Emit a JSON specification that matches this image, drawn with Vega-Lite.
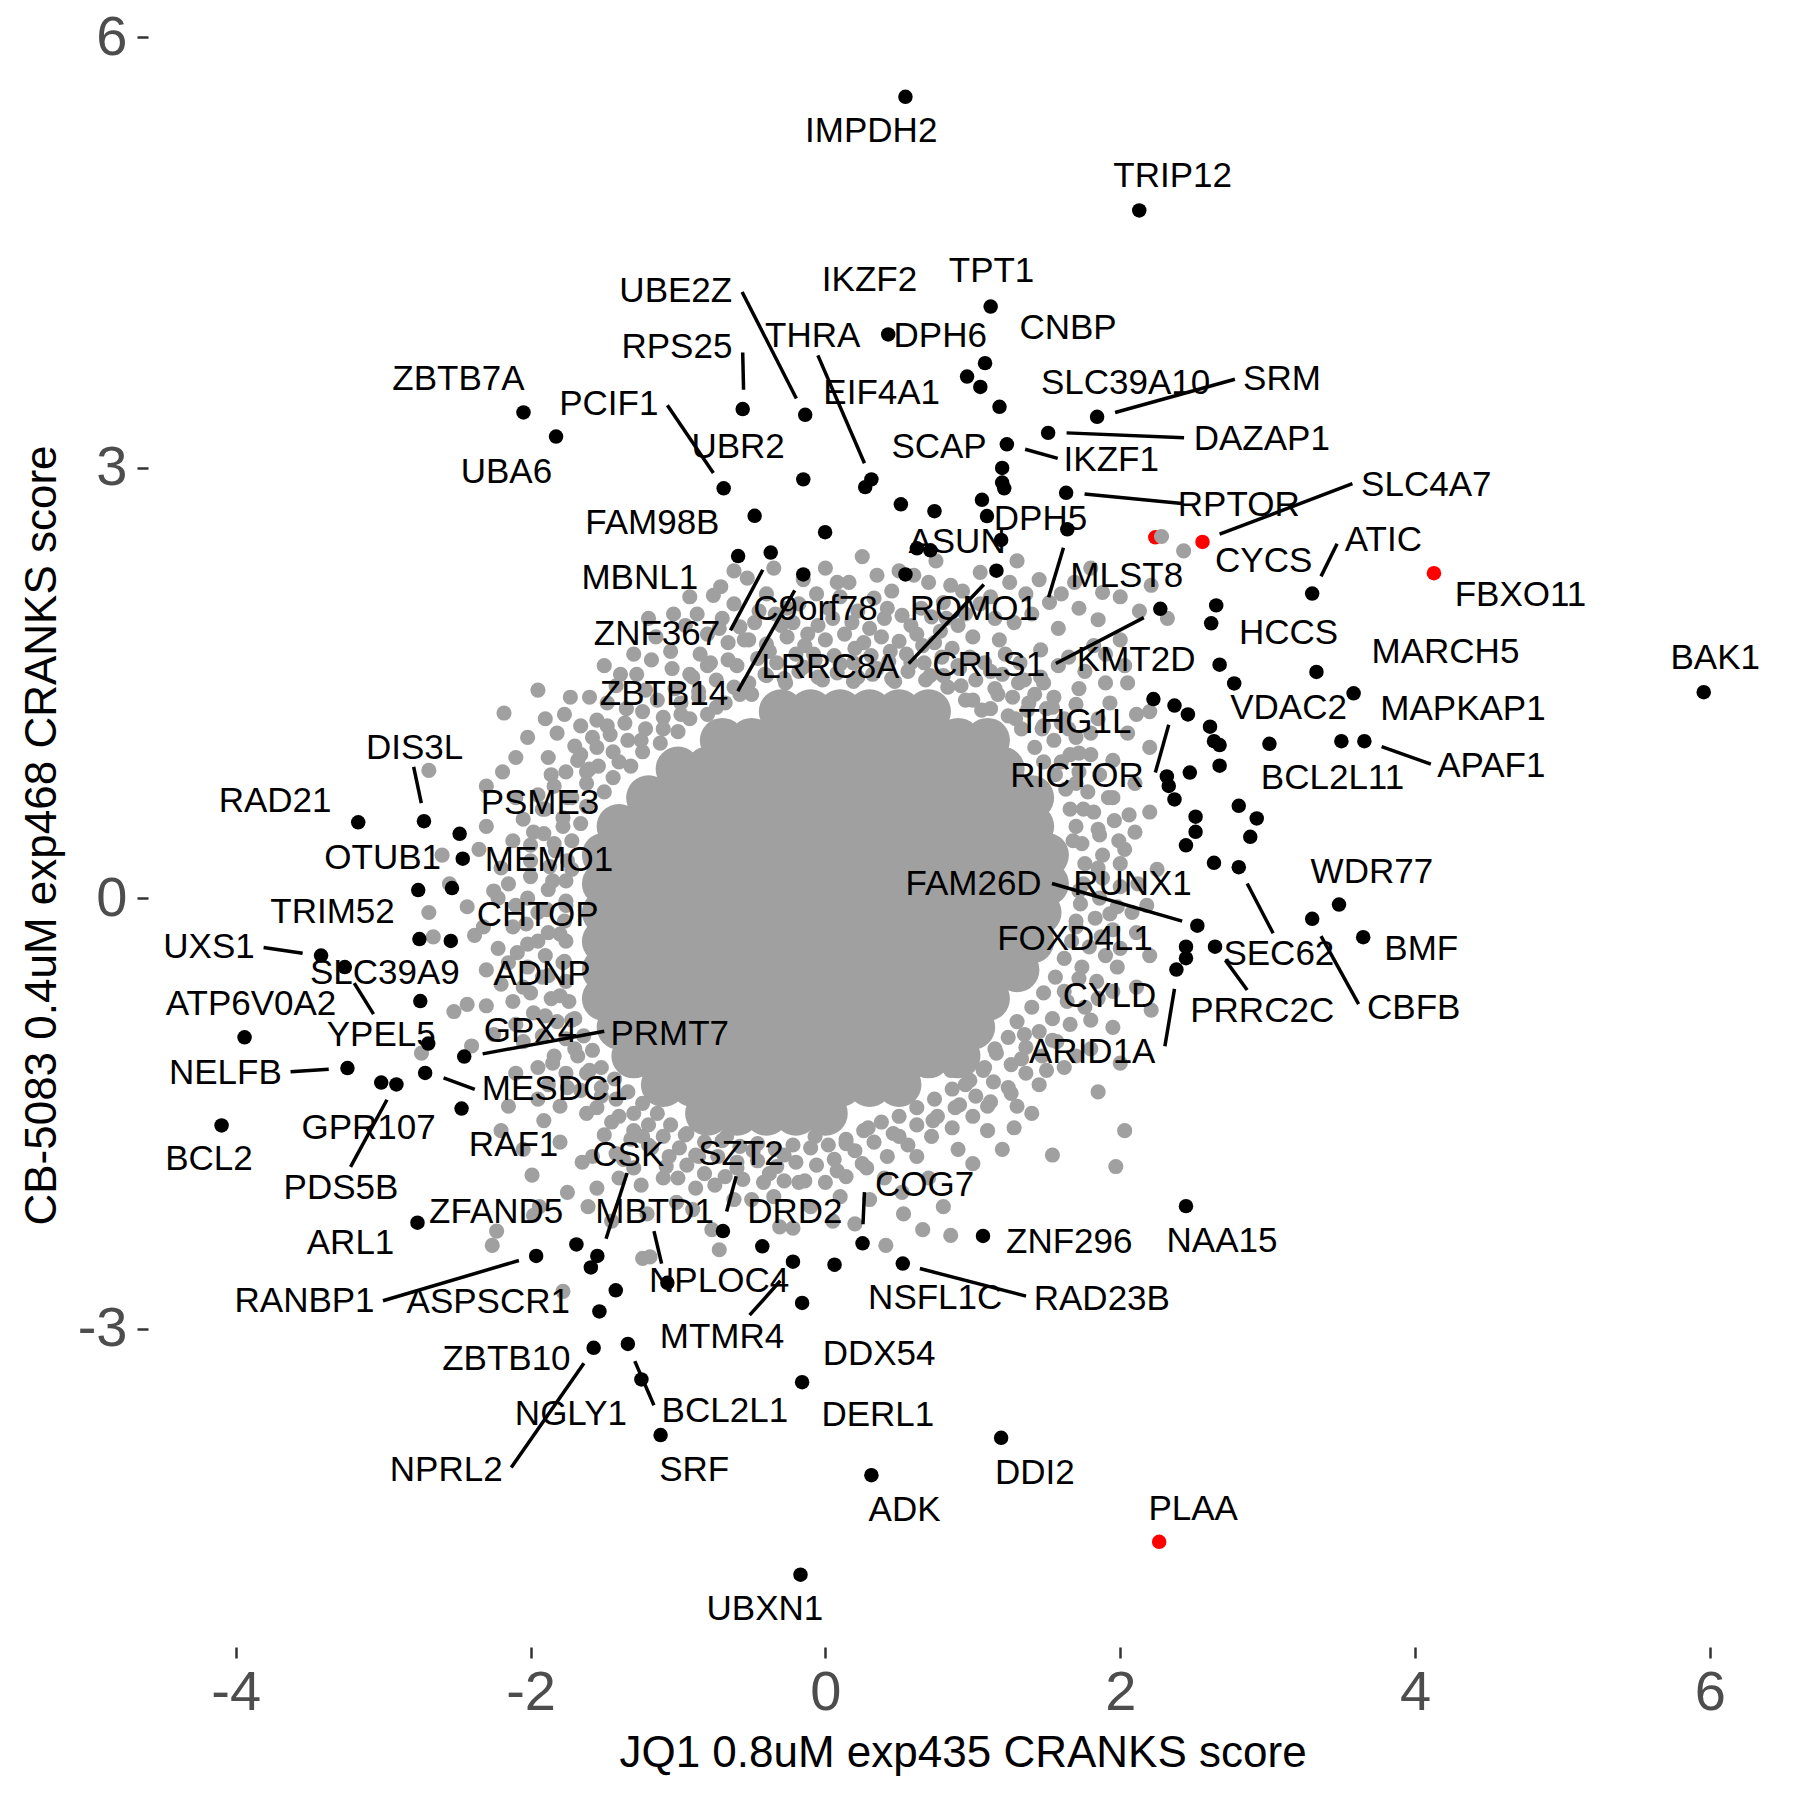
{
"$schema": "https://vega.github.io/schema/vega-lite/v6.json",
"width": 1629, "height": 1624,
"autosize": {"type": "none"},
"padding": {"left": 148, "top": 23, "right": 23, "bottom": 153},
"background": "white",
"config": {"view": {"stroke": null}, "font": "Liberation Sans"},
"datasets": {
"core": [
{"x":-0.3,"y":1.3},{"x":-0.1,"y":1.3},{"x":0.1,"y":1.3},{"x":0.3,"y":1.3},{"x":0.5,"y":1.3},{"x":0.7,"y":1.3},
{"x":-0.7,"y":1.1},{"x":-0.5,"y":1.1},{"x":-0.3,"y":1.1},{"x":-0.1,"y":1.1},{"x":0.1,"y":1.1},{"x":0.3,"y":1.1},{"x":0.5,"y":1.1},{"x":0.7,"y":1.1},{"x":0.9,"y":1.1},{"x":1.1,"y":1.1},
{"x":-1.0,"y":0.9},{"x":-0.8,"y":0.9},{"x":-0.6,"y":0.9},{"x":-0.4,"y":0.9},{"x":-0.2,"y":0.9},{"x":0.0,"y":0.9},{"x":0.2,"y":0.9},{"x":0.4,"y":0.9},{"x":0.6,"y":0.9},{"x":0.8,"y":0.9},{"x":1.0,"y":0.9},{"x":1.2,"y":0.9},
{"x":-1.2,"y":0.7},{"x":-1.0,"y":0.7},{"x":-0.8,"y":0.7},{"x":-0.6,"y":0.7},{"x":-0.4,"y":0.7},{"x":-0.2,"y":0.7},{"x":0.0,"y":0.7},{"x":0.2,"y":0.7},{"x":0.4,"y":0.7},{"x":0.6,"y":0.7},{"x":0.8,"y":0.7},{"x":1.0,"y":0.7},{"x":1.2,"y":0.7},{"x":1.4,"y":0.7},
{"x":-1.4,"y":0.5},{"x":-1.2,"y":0.5},{"x":-1.0,"y":0.5},{"x":-0.8,"y":0.5},{"x":-0.6,"y":0.5},{"x":-0.4,"y":0.5},{"x":-0.2,"y":0.5},{"x":0.0,"y":0.5},{"x":0.2,"y":0.5},{"x":0.4,"y":0.5},{"x":0.6,"y":0.5},{"x":0.8,"y":0.5},{"x":1.0,"y":0.5},{"x":1.2,"y":0.5},{"x":1.4,"y":0.5},
{"x":-1.5,"y":0.3},{"x":-1.3,"y":0.3},{"x":-1.1,"y":0.3},{"x":-0.9,"y":0.3},{"x":-0.7,"y":0.3},{"x":-0.5,"y":0.3},{"x":-0.3,"y":0.3},{"x":-0.1,"y":0.3},{"x":0.1,"y":0.3},{"x":0.3,"y":0.3},{"x":0.5,"y":0.3},{"x":0.7,"y":0.3},{"x":0.9,"y":0.3},{"x":1.1,"y":0.3},{"x":1.3,"y":0.3},{"x":1.5,"y":0.3},
{"x":-1.5,"y":0.1},{"x":-1.3,"y":0.1},{"x":-1.1,"y":0.1},{"x":-0.9,"y":0.1},{"x":-0.7,"y":0.1},{"x":-0.5,"y":0.1},{"x":-0.3,"y":0.1},{"x":-0.1,"y":0.1},{"x":0.1,"y":0.1},{"x":0.3,"y":0.1},{"x":0.5,"y":0.1},{"x":0.7,"y":0.1},{"x":0.9,"y":0.1},{"x":1.1,"y":0.1},{"x":1.3,"y":0.1},{"x":1.5,"y":0.1},
{"x":-1.5,"y":-0.1},{"x":-1.3,"y":-0.1},{"x":-1.1,"y":-0.1},{"x":-0.9,"y":-0.1},{"x":-0.7,"y":-0.1},{"x":-0.5,"y":-0.1},{"x":-0.3,"y":-0.1},{"x":-0.1,"y":-0.1},{"x":0.1,"y":-0.1},{"x":0.3,"y":-0.1},{"x":0.5,"y":-0.1},{"x":0.7,"y":-0.1},{"x":0.9,"y":-0.1},{"x":1.1,"y":-0.1},{"x":1.3,"y":-0.1},{"x":1.45,"y":-0.1},
{"x":-1.5,"y":-0.3},{"x":-1.3,"y":-0.3},{"x":-1.1,"y":-0.3},{"x":-0.9,"y":-0.3},{"x":-0.7,"y":-0.3},{"x":-0.5,"y":-0.3},{"x":-0.3,"y":-0.3},{"x":-0.1,"y":-0.3},{"x":0.1,"y":-0.3},{"x":0.3,"y":-0.3},{"x":0.5,"y":-0.3},{"x":0.7,"y":-0.3},{"x":0.9,"y":-0.3},{"x":1.1,"y":-0.3},{"x":1.3,"y":-0.3},{"x":1.4,"y":-0.3},
{"x":-1.5,"y":-0.5},{"x":-1.3,"y":-0.5},{"x":-1.1,"y":-0.5},{"x":-0.9,"y":-0.5},{"x":-0.7,"y":-0.5},{"x":-0.5,"y":-0.5},{"x":-0.3,"y":-0.5},{"x":-0.1,"y":-0.5},{"x":0.1,"y":-0.5},{"x":0.3,"y":-0.5},{"x":0.5,"y":-0.5},{"x":0.7,"y":-0.5},{"x":0.9,"y":-0.5},{"x":1.1,"y":-0.5},{"x":1.3,"y":-0.5},
{"x":-1.5,"y":-0.7},{"x":-1.3,"y":-0.7},{"x":-1.1,"y":-0.7},{"x":-0.9,"y":-0.7},{"x":-0.7,"y":-0.7},{"x":-0.5,"y":-0.7},{"x":-0.3,"y":-0.7},{"x":-0.1,"y":-0.7},{"x":0.1,"y":-0.7},{"x":0.3,"y":-0.7},{"x":0.5,"y":-0.7},{"x":0.7,"y":-0.7},{"x":0.9,"y":-0.7},{"x":1.1,"y":-0.7},
{"x":-1.4,"y":-0.9},{"x":-1.2,"y":-0.9},{"x":-1.0,"y":-0.9},{"x":-0.8,"y":-0.9},{"x":-0.6,"y":-0.9},{"x":-0.4,"y":-0.9},{"x":-0.2,"y":-0.9},{"x":0.0,"y":-0.9},{"x":0.2,"y":-0.9},{"x":0.4,"y":-0.9},{"x":0.6,"y":-0.9},{"x":0.8,"y":-0.9},{"x":1.0,"y":-0.9},
{"x":-1.3,"y":-1.1},{"x":-1.1,"y":-1.1},{"x":-0.9,"y":-1.1},{"x":-0.7,"y":-1.1},{"x":-0.5,"y":-1.1},{"x":-0.3,"y":-1.1},{"x":-0.1,"y":-1.1},{"x":0.1,"y":-1.1},{"x":0.3,"y":-1.1},{"x":0.5,"y":-1.1},{"x":0.7,"y":-1.1},{"x":0.9,"y":-1.1},
{"x":-1.1,"y":-1.3},{"x":-0.9,"y":-1.3},{"x":-0.7,"y":-1.3},{"x":-0.5,"y":-1.3},{"x":-0.3,"y":-1.3},{"x":-0.1,"y":-1.3},{"x":0.1,"y":-1.3},{"x":0.3,"y":-1.3},{"x":0.5,"y":-1.3},
{"x":-0.8,"y":-1.5},{"x":-0.6,"y":-1.5},{"x":-0.4,"y":-1.5},{"x":-0.2,"y":-1.5},{"x":0.0,"y":-1.5}
],
"cloud": [
{"x":-0.52,"y":1.50},{"x":-0.40,"y":1.55},{"x":-0.28,"y":1.53},{"x":-0.18,"y":1.58},{"x":-0.05,"y":1.54},{"x":0.08,"y":1.57},{"x":0.19,"y":1.51},{"x":0.32,"y":1.56},{"x":0.45,"y":1.53},{"x":0.56,"y":1.58},{"x":0.68,"y":1.52},{"x":0.80,"y":1.55},{"x":0.92,"y":1.48},{"x":1.00,"y":1.38},{"x":1.12,"y":1.32},{"x":1.24,"y":1.27},{"x":1.33,"y":1.18},{"x":1.42,"y":1.05},{"x":1.48,"y":0.95},{"x":1.56,"y":0.86},{"x":1.63,"y":0.76},{"x":1.66,"y":0.62},{"x":1.70,"y":0.50},{"x":1.74,"y":0.38},{"x":1.76,"y":0.24},{"x":1.75,"y":0.10},{"x":1.73,"y":-0.04},{"x":1.70,"y":-0.16},{"x":1.67,"y":-0.30},{"x":1.62,"y":-0.42},{"x":1.56,"y":-0.55},{"x":1.48,"y":-0.66},{"x":1.40,"y":-0.76},{"x":1.30,"y":-0.86},{"x":1.24,"y":-0.97},{"x":1.16,"y":-1.08},{"x":1.08,"y":-1.18},{"x":0.98,"y":-1.27},{"x":0.86,"y":-1.33},{"x":0.74,"y":-1.40},{"x":0.62,"y":-1.46},{"x":0.50,"y":-1.52},{"x":0.38,"y":-1.56},{"x":0.26,"y":-1.62},{"x":0.14,"y":-1.68},{"x":0.02,"y":-1.72},{"x":-0.10,"y":-1.74},{"x":-0.22,"y":-1.72},{"x":-0.34,"y":-1.75},{"x":-0.46,"y":-1.71},{"x":-0.58,"y":-1.73},{"x":-0.70,"y":-1.69},{"x":-0.82,"y":-1.70},{"x":-0.94,"y":-1.64},{"x":-1.05,"y":-1.58},{"x":-1.14,"y":-1.50},{"x":-1.24,"y":-1.43},{"x":-1.34,"y":-1.35},{"x":-1.43,"y":-1.26},{"x":-1.52,"y":-1.18},{"x":-1.58,"y":-1.06},{"x":-1.64,"y":-0.96},{"x":-1.70,"y":-0.84},{"x":-1.74,"y":-0.72},{"x":-1.76,"y":-0.58},{"x":-1.77,"y":-0.44},{"x":-1.76,"y":-0.30},{"x":-1.77,"y":-0.16},{"x":-1.76,"y":-0.02},{"x":-1.76,"y":0.12},{"x":-1.75,"y":0.26},{"x":-1.72,"y":0.40},{"x":-1.66,"y":0.52},{"x":-1.62,"y":0.64},{"x":-1.50,"y":0.74},{"x":-1.44,"y":0.84},{"x":-1.32,"y":0.92},{"x":-1.24,"y":1.02},{"x":-1.12,"y":1.08},{"x":-1.00,"y":1.16},{"x":-0.92,"y":1.25},{"x":-0.80,"y":1.28},{"x":-0.68,"y":1.36},{"x":-0.58,"y":1.42},
{"x":-0.60,"y":1.62},{"x":-0.46,"y":1.67},{"x":-0.33,"y":1.64},{"x":-0.20,"y":1.70},{"x":-0.07,"y":1.66},{"x":0.06,"y":1.69},{"x":0.19,"y":1.64},{"x":0.31,"y":1.69},{"x":0.43,"y":1.65},{"x":0.55,"y":1.70},{"x":0.67,"y":1.64},{"x":0.79,"y":1.68},{"x":0.91,"y":1.60},{"x":1.02,"y":1.52},{"x":1.15,"y":1.46},{"x":1.27,"y":1.40},{"x":1.37,"y":1.31},{"x":1.48,"y":1.20},{"x":1.55,"y":1.10},{"x":1.66,"y":1.00},{"x":1.72,"y":0.88},{"x":1.78,"y":0.74},{"x":1.82,"y":0.60},{"x":1.86,"y":0.44},{"x":1.88,"y":0.30},{"x":1.88,"y":0.14},{"x":1.86,"y":0.00},{"x":1.83,"y":-0.14},{"x":1.79,"y":-0.34},{"x":1.72,"y":-0.56},{"x":1.64,"y":-0.72},{"x":1.54,"y":-0.84},{"x":1.45,"y":-0.93},{"x":1.36,"y":-1.04},{"x":1.26,"y":-1.16},{"x":1.14,"y":-1.28},{"x":1.02,"y":-1.38},{"x":0.88,"y":-1.46},{"x":0.76,"y":-1.52},{"x":0.62,"y":-1.58},{"x":0.46,"y":-1.64},{"x":0.33,"y":-1.70},{"x":0.20,"y":-1.76},{"x":0.06,"y":-1.82},{"x":-0.06,"y":-1.86},{"x":-0.20,"y":-1.84},{"x":-0.33,"y":-1.87},{"x":-0.46,"y":-1.83},{"x":-0.60,"y":-1.84},{"x":-0.73,"y":-1.80},{"x":-0.86,"y":-1.80},{"x":-0.99,"y":-1.74},{"x":-1.10,"y":-1.66},{"x":-1.20,"y":-1.58},{"x":-1.30,"y":-1.50},{"x":-1.42,"y":-1.40},{"x":-1.52,"y":-1.32},{"x":-1.62,"y":-1.22},{"x":-1.68,"y":-1.10},{"x":-1.76,"y":-0.98},{"x":-1.82,"y":-0.86},{"x":-1.86,"y":-0.70},{"x":-1.88,"y":-0.54},{"x":-1.90,"y":-0.40},{"x":-1.88,"y":-0.24},{"x":-1.89,"y":-0.08},{"x":-1.88,"y":0.06},{"x":-1.87,"y":0.22},{"x":-1.84,"y":0.38},{"x":-1.78,"y":0.56},{"x":-1.72,"y":0.70},{"x":-1.62,"y":0.80},{"x":-1.54,"y":0.92},{"x":-1.44,"y":1.02},{"x":-1.34,"y":1.10},{"x":-1.22,"y":1.18},{"x":-1.10,"y":1.26},{"x":-0.98,"y":1.36},{"x":-0.86,"y":1.44},{"x":-0.74,"y":1.52},
{"x":-0.66,"y":1.78},{"x":-0.52,"y":1.80},{"x":-0.40,"y":1.77},{"x":-0.26,"y":1.82},{"x":-0.14,"y":1.76},{"x":0.00,"y":1.80},{"x":0.13,"y":1.84},{"x":0.26,"y":1.78},{"x":0.38,"y":1.82},{"x":0.50,"y":1.79},{"x":0.62,"y":1.84},{"x":0.74,"y":1.78},{"x":0.86,"y":1.74},{"x":0.98,"y":1.68},{"x":1.08,"y":1.64},{"x":1.20,"y":1.56},{"x":1.31,"y":1.50},{"x":1.42,"y":1.42},{"x":1.50,"y":1.32},{"x":1.60,"y":1.22},{"x":1.70,"y":1.12},
{"x":1.80,"y":1.00},{"x":1.86,"y":0.86},{"x":1.92,"y":0.70},{"x":1.96,"y":0.54},{"x":1.99,"y":0.40},{"x":2.00,"y":0.24},{"x":2.00,"y":0.08},{"x":1.98,"y":-0.06},{"x":1.95,"y":-0.22},{"x":1.90,"y":-0.40},{"x":1.84,"y":-0.58},{"x":1.76,"y":-0.76},{"x":1.66,"y":-0.88},{"x":1.57,"y":-1.00},{"x":1.47,"y":-1.10},{"x":1.36,"y":-1.22},{"x":1.24,"y":-1.32},{"x":1.12,"y":-1.42},{"x":1.00,"y":-1.52},
{"x":0.86,"y":-1.60},{"x":0.72,"y":-1.66},{"x":0.56,"y":-1.72},{"x":0.42,"y":-1.80},{"x":0.28,"y":-1.88},{"x":0.14,"y":-1.94},{"x":0.00,"y":-1.98},{"x":-0.14,"y":-1.97},{"x":-0.28,"y":-1.97},{"x":-0.42,"y":-1.98},{"x":-0.56,"y":-1.96},{"x":-0.68,"y":-1.94},{"x":-0.82,"y":-1.92},{"x":-0.94,"y":-1.86},{"x":-1.06,"y":-1.80},{"x":-1.18,"y":-1.74},{"x":-1.32,"y":-1.68},{"x":-1.45,"y":-1.56},{"x":-1.55,"y":-1.46},{"x":-1.66,"y":-1.34},{"x":-1.76,"y":-1.22},
{"x":-1.84,"y":-1.10},{"x":-1.92,"y":-0.96},{"x":-1.98,"y":-0.80},{"x":-2.00,"y":-0.66},{"x":-2.02,"y":-0.48},{"x":-2.02,"y":-0.32},{"x":-2.03,"y":-0.18},{"x":-2.02,"y":0.00},{"x":-2.00,"y":0.26},{"x":-1.98,"y":0.46},{"x":-1.92,"y":0.62},{"x":-1.84,"y":0.78},{"x":-1.76,"y":0.88},{"x":-1.66,"y":1.00},{"x":-1.58,"y":1.12},{"x":-1.46,"y":1.14},{"x":-1.36,"y":1.22},{"x":-1.24,"y":1.30},{"x":-1.14,"y":1.38},{"x":-1.02,"y":1.46},{"x":-0.90,"y":1.54},{"x":-0.80,"y":1.62},
{"x":-0.95,"y":1.90},{"x":-0.70,"y":1.95},{"x":-0.45,"y":2.00},{"x":-0.40,"y":2.12},{"x":-0.18,"y":2.05},{"x":-0.15,"y":2.22},{"x":0.02,"y":2.02},{"x":0.08,"y":2.20},{"x":0.22,"y":2.00},{"x":0.45,"y":2.14},{"x":0.50,"y":2.28},{"x":0.65,"y":2.02},{"x":0.85,"y":2.18},{"x":0.90,"y":1.90},{"x":1.12,"y":2.10},{"x":1.15,"y":1.95},{"x":1.40,"y":1.98},{"x":1.45,"y":2.22},{"x":1.60,"y":2.12},{"x":1.65,"y":1.68},{"x":2.00,"y":1.80},{"x":2.05,"y":1.50},{"x":2.20,"y":1.30},{"x":-0.62,"y":2.05},{"x":0.35,"y":2.25},{"x":1.80,"y":2.30},{"x":2.00,"y":2.10},{"x":2.32,"y":1.95},
{"x":-0.85,"y":1.70},{"x":-0.72,"y":1.88},{"x":-0.48,"y":1.92},{"x":-0.34,"y":1.98},{"x":-0.22,"y":1.92},{"x":-0.05,"y":1.90},{"x":0.10,"y":2.10},{"x":0.18,"y":1.92},{"x":0.40,"y":1.95},{"x":0.58,"y":1.90},{"x":0.72,"y":1.96},{"x":0.82,"y":1.95},{"x":1.00,"y":1.82},{"x":1.05,"y":2.05},{"x":1.22,"y":1.70},{"x":1.32,"y":1.64},{"x":1.48,"y":1.50},{"x":1.58,"y":1.62},{"x":1.70,"y":1.35},{"x":1.85,"y":1.25},{"x":1.90,"y":1.50},{"x":-0.62,"y":2.28},{"x":0.00,"y":2.30},{"x":0.75,"y":2.35},{"x":1.30,"y":2.35},
{"x":-1.48,"y":1.36},{"x":-1.66,"y":1.20},{"x":-1.70,"y":1.06},{"x":-1.42,"y":1.48},{"x":-1.28,"y":1.56},{"x":-1.18,"y":1.66},{"x":-1.86,"y":0.86},{"x":-1.95,"y":0.72},{"x":-2.10,"y":0.70},{"x":-2.10,"y":0.98},{"x":-1.90,"y":1.25},{"x":-1.20,"y":1.95},
{"x":-2.12,"y":0.40},{"x":-2.15,"y":0.10},{"x":-2.12,"y":-0.20},{"x":-2.15,"y":-0.45},{"x":-2.12,"y":-0.72},{"x":-2.30,"y":0.50},{"x":-2.32,"y":-0.20},{"x":-2.30,"y":-0.75},{"x":-2.05,"y":-1.00},{"x":-1.95,"y":-1.18},
{"x":-1.10,"y":-1.95},{"x":-0.88,"y":-2.02},{"x":-0.62,"y":-2.10},{"x":-0.35,"y":-2.08},{"x":-0.22,"y":-2.30},{"x":0.05,"y":-2.25},{"x":0.30,"y":-2.10},{"x":0.52,"y":-2.05},{"x":0.70,"y":-1.95},{"x":0.80,"y":-2.15},{"x":1.00,"y":-1.85},{"x":-1.40,"y":-1.95},{"x":-1.58,"y":-1.80},{"x":-1.80,"y":-1.45},{"x":-1.88,"y":-1.30},
{"x":2.10,"y":0.46},{"x":2.12,"y":0.10},{"x":2.08,"y":-0.10},{"x":2.05,"y":1.15},{"x":2.20,"y":0.60},{"x":2.20,"y":-0.40},{"x":1.95,"y":-0.65},{"x":1.95,"y":-0.90},{"x":1.70,"y":-1.10},{"x":1.50,"y":-1.20},{"x":1.30,"y":-1.45},{"x":1.10,"y":-1.62},
{"x":-0.98,"y":1.28},{"x":-0.86,"y":1.40},{"x":-0.74,"y":1.33},{"x":-0.62,"y":1.47},{"x":-0.50,"y":1.42},{"x":-0.41,"y":1.56},{"x":-0.27,"y":1.50},{"x":-0.15,"y":1.61},{"x":-0.02,"y":1.52},{"x":0.10,"y":1.63},{"x":0.22,"y":1.54},{"x":0.35,"y":1.60},{"x":0.47,"y":1.51},{"x":0.58,"y":1.64},{"x":0.71,"y":1.55},{"x":0.83,"y":1.47},{"x":0.95,"y":1.38},{"x":1.06,"y":1.31},{"x":1.17,"y":1.42},{"x":1.29,"y":1.25},{"x":1.38,"y":1.36},{"x":1.47,"y":1.18},{"x":-1.10,"y":1.18},{"x":-0.92,"y":1.56},{"x":-0.66,"y":1.66},{"x":-0.38,"y":1.72},{"x":-0.08,"y":1.70},{"x":0.20,"y":1.74},{"x":0.44,"y":1.72},{"x":0.66,"y":1.76},{"x":0.90,"y":1.62},{"x":1.12,"y":1.58},{"x":1.35,"y":1.52},{"x":1.55,"y":1.40},{"x":1.62,"y":1.25},
{"x":-1.05,"y":1.72},{"x":-0.80,"y":1.84},{"x":-0.55,"y":1.80},{"x":-0.30,"y":1.90},{"x":-0.12,"y":1.84},{"x":0.05,"y":1.95},{"x":0.30,"y":1.88},{"x":0.52,"y":1.97},{"x":0.78,"y":1.86},{"x":0.95,"y":1.98},{"x":1.18,"y":1.80},{"x":1.28,"y":1.92},{"x":1.46,"y":1.73},{"x":1.58,"y":1.88},{"x":1.72,"y":2.02},{"x":1.85,"y":1.94},{"x":2.13,"y":2.00},{"x":1.90,"y":1.70},{"x":1.76,"y":1.58},{"x":-0.58,"y":1.89},{"x":-0.78,"y":1.64},{"x":-1.03,"y":1.98},{"x":-0.87,"y":1.98},
{"x":-0.71,"y":2.17},{"x":-0.53,"y":2.23},{"x":-0.76,"y":2.11},{"x":-0.26,"y":2.02},{"x":-0.06,"y":2.12},{"x":0.16,"y":2.20},{"x":0.33,"y":2.09},{"x":0.60,"y":2.25},{"x":0.70,"y":2.20},{"x":0.93,"y":2.14},{"x":1.05,"y":2.27},{"x":1.25,"y":2.20},{"x":1.36,"y":2.12},{"x":1.69,"y":2.20},{"x":1.88,"y":2.13},{"x":2.21,"y":2.18},{"x":2.43,"y":2.42},{"x":2.28,"y":2.52},{"x":0.42,"y":2.02},{"x":0.80,"y":2.06},{"x":1.52,"y":2.06},{"x":-0.92,"y":2.10},{"x":0.25,"y":2.38},{"x":-0.35,"y":2.30},
{"x":-1.39,"y":1.56},{"x":-1.04,"y":1.60},{"x":-1.22,"y":1.45},{"x":-1.35,"y":1.32},{"x":-1.48,"y":1.20},{"x":-1.25,"y":1.10},{"x":-1.55,"y":1.05},{"x":-1.40,"y":0.95},{"x":-1.62,"y":0.88},{"x":-1.73,"y":1.40},{"x":-1.77,"y":1.28},{"x":-1.82,"y":1.15},{"x":-1.68,"y":0.96},{"x":-1.88,"y":0.98},{"x":-2.18,"y":1.29},{"x":-2.19,"y":0.88},{"x":-2.30,"y":0.78},{"x":-1.55,"y":1.24},{"x":-2.02,"y":1.12},{"x":-1.95,"y":1.45},{"x":-1.15,"y":1.82},{"x":-1.30,"y":1.70},{"x":-1.50,"y":1.62},{"x":-1.60,"y":1.40},{"x":-1.60,"y":0.90},
{"x":-1.91,"y":0.45},{"x":-1.78,"y":0.50},{"x":-2.00,"y":0.37},{"x":-1.83,"y":0.33},{"x":-2.20,"y":0.21},{"x":-2.35,"y":0.34},{"x":-2.25,"y":0.05},{"x":-2.43,"y":-0.06},{"x":-2.22,"y":0.00},{"x":-2.38,"y":-0.26},{"x":-2.22,"y":-0.35},{"x":-2.09,"y":-0.38},{"x":-2.52,"y":-0.79},{"x":-2.43,"y":-0.74},{"x":-2.40,"y":-1.03},{"x":-1.75,"y":0.70},{"x":-1.90,"y":0.62},{"x":-2.05,"y":0.55},{"x":-1.72,"y":0.20},{"x":-1.85,"y":0.12},{"x":-2.00,"y":0.15},{"x":-1.76,"y":-0.05},{"x":-1.95,"y":-0.10},{"x":-2.10,"y":-0.05},{"x":-1.80,"y":-0.25},{"x":-1.95,"y":-0.30},{"x":-1.78,"y":-0.45},{"x":-1.92,"y":-0.55},{"x":-2.05,"y":-0.62},{"x":-1.80,"y":-0.68},{"x":-2.20,"y":-0.60},{"x":-1.72,"y":-0.85},{"x":-1.90,"y":-0.82},{"x":-2.10,"y":-0.88},{"x":-2.69,"y":-0.10},{"x":-2.66,"y":-0.27},{"x":-2.69,"y":0.89},{"x":-2.60,"y":0.30},{"x":-2.55,"y":0.10},{"x":-2.30,"y":-0.50},{"x":-2.25,"y":-0.95},{"x":-2.74,"y":-1.08},
{"x":-1.70,"y":-1.05},{"x":-1.85,"y":-1.15},{"x":-1.60,"y":-1.20},{"x":-1.75,"y":-1.32},{"x":-1.52,"y":-1.38},{"x":-1.95,"y":-1.40},{"x":-1.62,"y":-1.50},{"x":-1.91,"y":-1.55},{"x":-1.40,"y":-1.52},{"x":-1.50,"y":-1.65},{"x":-1.30,"y":-1.62},{"x":-1.99,"y":-1.93},{"x":-1.65,"y":-1.84},{"x":-1.80,"y":-1.70},{"x":-1.42,"y":-1.78},{"x":-1.20,"y":-1.72},{"x":-1.30,"y":-1.88},{"x":-1.08,"y":-1.87},{"x":-1.37,"y":-1.82},{"x":-1.24,"y":-1.66},{"x":-2.23,"y":-2.32},{"x":-2.26,"y":-2.42},{"x":-1.94,"y":-2.15},{"x":-1.98,"y":-2.21},{"x":-1.78,"y":-2.74},{"x":-1.61,"y":-2.15},{"x":-1.55,"y":-2.02},{"x":-1.25,"y":-2.00},{"x":-1.00,"y":-1.95},{"x":-2.10,"y":-1.22},{"x":-2.20,"y":-1.62},{"x":-2.05,"y":-1.75},{"x":-1.45,"y":-2.25},{"x":-1.21,"y":-2.20},{"x":-1.19,"y":-2.50},{"x":-2.15,"y":-1.45},{"x":-1.75,"y":-2.05},{"x":-1.01,"y":-2.12},{"x":-0.90,"y":-2.17},
{"x":-0.88,"y":-1.79},{"x":-0.67,"y":-1.66},{"x":-0.49,"y":-1.76},{"x":-0.28,"y":-1.79},{"x":-0.07,"y":-1.66},{"x":0.14,"y":-1.71},{"x":0.29,"y":-1.60},{"x":0.50,"y":-1.66},{"x":0.73,"y":-1.55},{"x":-0.75,"y":-2.00},{"x":-0.18,"y":-1.98},{"x":0.08,"y":-1.90},{"x":-0.95,"y":-1.65},{"x":-0.60,"y":-1.88},{"x":-0.38,"y":-1.92},{"x":0.25,"y":-1.85},{"x":0.40,"y":-1.95},{"x":0.62,"y":-1.80},{"x":0.53,"y":-2.20},{"x":0.66,"y":-2.31},{"x":0.85,"y":-2.35},{"x":0.41,"y":-2.42},{"x":0.20,"y":-2.27},{"x":-0.31,"y":-2.29},{"x":-0.72,"y":-2.45},{"x":-0.77,"y":-2.31},{"x":-0.50,"y":-2.10},{"x":-0.10,"y":-2.15},{"x":0.90,"y":-1.75},{"x":0.10,"y":-2.08},{"x":-1.24,"y":-2.51},
{"x":1.85,"y":0.48},{"x":2.06,"y":0.58},{"x":2.03,"y":0.34},{"x":1.85,"y":0.21},{"x":1.93,"y":-0.11},{"x":2.11,"y":-0.24},{"x":1.87,"y":-0.27},{"x":1.74,"y":-0.48},{"x":1.98,"y":-0.48},{"x":1.85,"y":-0.70},{"x":2.11,"y":-0.62},{"x":2.21,"y":-0.78},{"x":1.72,"y":1.01},{"x":1.95,"y":0.96},{"x":2.11,"y":1.28},{"x":1.93,"y":1.36},{"x":1.72,"y":1.46},{"x":2.03,"y":1.62},{"x":1.82,"y":1.76},{"x":1.46,"y":1.54},{"x":1.54,"y":1.33},{"x":1.70,"y":0.80},{"x":1.75,"y":0.62},{"x":1.68,"y":0.40},{"x":1.72,"y":0.05},{"x":1.70,"y":-0.20},{"x":1.62,"y":-0.65},{"x":1.80,"y":1.15},{"x":2.20,"y":1.05},{"x":2.25,"y":0.20},{"x":2.18,"y":-0.05},{"x":1.60,"y":0.95},{"x":1.65,"y":1.18},{"x":1.95,"y":0.70},{"x":2.10,"y":0.80},{"x":1.80,"y":-0.85},{"x":2.00,"y":-0.35},
{"x":1.07,"y":-1.20},{"x":1.33,"y":-1.12},{"x":1.54,"y":-0.99},{"x":1.26,"y":-1.36},{"x":1.45,"y":-1.30},{"x":1.62,"y":-1.18},{"x":1.80,"y":-1.05},{"x":1.97,"y":-1.87},{"x":1.54,"y":-1.79},{"x":2.03,"y":-1.62},{"x":1.28,"y":-1.60},{"x":1.10,"y":-1.45},{"x":0.91,"y":-1.44},{"x":1.85,"y":-1.35},{"x":2.00,"y":-1.15},{"x":1.40,"y":-1.50},{"x":1.20,"y":-1.75},{"x":0.95,"y":-1.30},{"x":1.15,"y":-1.05},{"x":1.35,"y":-0.95},{"x":0.85,"y":-1.20}
],
"hits": [
{"gene":"IMPDH2","x":0.543,"y":5.584,"group":"hit"},{"gene":"TRIP12","x":2.129,"y":4.792,"group":"hit"},{"gene":"TPT1","x":1.121,"y":4.122,"group":"hit"},{"gene":"IKZF2","x":0.426,"y":3.928,"group":"hit"},{"gene":"CNBP","x":1.083,"y":3.728,"group":"hit"},{"gene":"DPH6","x":0.961,"y":3.634,"group":"hit"},{"gene":"EIF4A1","x":1.051,"y":3.562,"group":"hit"},{"gene":"SLC39A10","x":1.181,"y":3.424,"group":"hit"},{"gene":"SRM","x":1.843,"y":3.354,"group":"hit"},{"gene":"DAZAP1","x":1.511,"y":3.242,"group":"hit"},{"gene":"IKZF1","x":1.231,"y":3.162,"group":"hit"},{"gene":"SCAP","x":1.199,"y":2.998,"group":"hit"},{"gene":"","x":1.199,"y":2.896,"group":"hit"},{"gene":"","x":1.213,"y":2.856,"group":"hit"},{"gene":"","x":1.062,"y":2.776,"group":"hit"},{"gene":"DPH5","x":1.096,"y":2.662,"group":"hit"},{"gene":"RPTOR","x":1.633,"y":2.824,"group":"hit"},{"gene":"ROMO1","x":1.641,"y":2.570,"group":"hit"},{"gene":"ASUN","x":1.192,"y":2.496,"group":"hit"},{"gene":"","x":0.621,"y":2.438,"group":"hit"},{"gene":"","x":0.712,"y":2.424,"group":"hit"},{"gene":"","x":0.740,"y":2.696,"group":"hit"},{"gene":"","x":0.512,"y":2.744,"group":"hit"},{"gene":"THRA","x":0.312,"y":2.918,"group":"hit"},{"gene":"","x":0.270,"y":2.864,"group":"hit"},{"gene":"UBR2","x":-0.150,"y":2.918,"group":"hit"},{"gene":"UBE2Z","x":-0.137,"y":3.368,"group":"hit"},{"gene":"RPS25","x":-0.561,"y":3.408,"group":"hit"},{"gene":"PCIF1","x":-0.690,"y":2.856,"group":"hit"},{"gene":"FAM98B","x":-0.480,"y":2.664,"group":"hit"},{"gene":"C9orf78","x":-0.002,"y":2.550,"group":"hit"},{"gene":"ZNF367","x":-0.371,"y":2.408,"group":"hit"},{"gene":"MBNL1","x":-0.592,"y":2.384,"group":"hit"},{"gene":"ZBTB14","x":-0.150,"y":2.256,"group":"hit"},{"gene":"","x":0.543,"y":2.256,"group":"hit"},{"gene":"LRRC8A","x":1.160,"y":2.282,"group":"hit"},{"gene":"ZBTB7A","x":-2.048,"y":3.384,"group":"hit"},{"gene":"UBA6","x":-1.827,"y":3.216,"group":"hit"},
{"gene":"SLC4A7","x":2.558,"y":2.482,"group":"red"},{"gene":"","x":2.238,"y":2.514,"group":"red"},{"gene":"FBXO11","x":4.128,"y":2.264,"group":"red"},{"gene":"PLAA","x":2.264,"y":-4.485,"group":"red"},
{"gene":"ATIC","x":3.302,"y":2.122,"group":"hit"},{"gene":"CYCS","x":2.651,"y":2.040,"group":"hit"},{"gene":"KMT2D","x":2.617,"y":1.915,"group":"hit"},{"gene":"CRLS1","x":2.272,"y":2.016,"group":"hit"},{"gene":"","x":2.674,"y":1.627,"group":"hit"},{"gene":"","x":2.773,"y":1.496,"group":"hit"},{"gene":"HCCS","x":3.331,"y":1.576,"group":"hit"},{"gene":"MARCH5","x":3.583,"y":1.427,"group":"hit"},{"gene":"BAK1","x":5.958,"y":1.435,"group":"hit"},{"gene":"THG1L","x":2.225,"y":1.387,"group":"hit"},{"gene":"RICTOR","x":2.368,"y":1.342,"group":"hit"},{"gene":"","x":2.459,"y":1.280,"group":"hit"},{"gene":"","x":2.609,"y":1.195,"group":"hit"},{"gene":"","x":2.636,"y":1.094,"group":"hit"},{"gene":"","x":2.674,"y":1.067,"group":"hit"},{"gene":"VDAC2","x":3.012,"y":1.075,"group":"hit"},{"gene":"BCL2L11","x":3.500,"y":1.094,"group":"hit"},{"gene":"APAF1","x":3.656,"y":1.094,"group":"hit"},
{"gene":"","x":2.674,"y":0.923,"group":"hit"},{"gene":"","x":2.472,"y":0.875,"group":"hit"},{"gene":"","x":2.316,"y":0.848,"group":"hit"},{"gene":"","x":2.329,"y":0.782,"group":"hit"},{"gene":"","x":2.368,"y":0.688,"group":"hit"},{"gene":"","x":2.511,"y":0.568,"group":"hit"},{"gene":"","x":2.511,"y":0.462,"group":"hit"},{"gene":"","x":2.446,"y":0.368,"group":"hit"},{"gene":"","x":2.804,"y":0.643,"group":"hit"},{"gene":"","x":2.926,"y":0.555,"group":"hit"},{"gene":"","x":2.882,"y":0.427,"group":"hit"},{"gene":"","x":2.636,"y":0.246,"group":"hit"},{"gene":"SEC62","x":2.804,"y":0.216,"group":"hit"},{"gene":"WDR77","x":3.484,"y":-0.045,"group":"hit"},{"gene":"CBFB","x":3.302,"y":-0.144,"group":"hit"},{"gene":"BMF","x":3.648,"y":-0.272,"group":"hit"},{"gene":"FAM26D","x":2.523,"y":-0.192,"group":"hit"},{"gene":"PRRC2C","x":2.643,"y":-0.338,"group":"hit"},{"gene":"","x":2.446,"y":-0.338,"group":"hit"},{"gene":"","x":2.446,"y":-0.418,"group":"hit"},{"gene":"ARID1A","x":2.381,"y":-0.498,"group":"hit"},
{"gene":"RAD21","x":-3.169,"y":0.528,"group":"hit"},{"gene":"DIS3L","x":-2.723,"y":0.536,"group":"hit"},{"gene":"PSME3","x":-2.481,"y":0.448,"group":"hit"},{"gene":"MEMO1","x":-2.460,"y":0.275,"group":"hit"},{"gene":"OTUB1","x":-2.762,"y":0.056,"group":"hit"},{"gene":"CHTOP","x":-2.533,"y":0.070,"group":"hit"},{"gene":"TRIM52","x":-2.754,"y":-0.285,"group":"hit"},{"gene":"ADNP","x":-2.541,"y":-0.298,"group":"hit"},{"gene":"UXS1","x":-3.421,"y":-0.400,"group":"hit"},{"gene":"YPEL5","x":-3.260,"y":-0.480,"group":"hit"},{"gene":"SLC39A9","x":-2.748,"y":-0.717,"group":"hit"},{"gene":"ATP6V0A2","x":-3.940,"y":-0.970,"group":"hit"},{"gene":"NELFB","x":-3.242,"y":-1.184,"group":"hit"},{"gene":"PDS5B","x":-3.013,"y":-1.285,"group":"hit"},{"gene":"GPR107","x":-2.910,"y":-1.298,"group":"hit"},{"gene":"BCL2","x":-4.096,"y":-1.584,"group":"hit"},{"gene":"GPX4","x":-2.694,"y":-1.013,"group":"hit"},{"gene":"PRMT7","x":-2.450,"y":-1.104,"group":"hit"},{"gene":"MESDC1","x":-2.715,"y":-1.218,"group":"hit"},{"gene":"RAF1","x":-2.468,"y":-1.466,"group":"hit"},
{"gene":"ZFAND5","x":-2.767,"y":-2.261,"group":"hit"},{"gene":"RANBP1","x":-1.962,"y":-2.493,"group":"hit"},{"gene":"","x":-1.689,"y":-2.413,"group":"hit"},{"gene":"","x":-1.591,"y":-2.573,"group":"hit"},{"gene":"CSK","x":-1.547,"y":-2.493,"group":"hit"},{"gene":"ASPSCR1","x":-1.533,"y":-2.880,"group":"hit"},{"gene":"NPRL2","x":-1.572,"y":-3.133,"group":"hit"},{"gene":"","x":-1.422,"y":-2.733,"group":"hit"},{"gene":"SZT2","x":-0.695,"y":-2.320,"group":"hit"},{"gene":"DRD2","x":-0.428,"y":-2.426,"group":"hit"},{"gene":"MTMR4","x":-0.220,"y":-2.533,"group":"hit"},{"gene":"NPLOC4","x":0.062,"y":-2.554,"group":"hit"},{"gene":"COG7","x":0.252,"y":-2.405,"group":"hit"},{"gene":"RAD23B","x":0.525,"y":-2.546,"group":"hit"},{"gene":"ZNF296","x":1.069,"y":-2.354,"group":"hit"},{"gene":"NAA15","x":2.446,"y":-2.146,"group":"hit"},{"gene":"MBTD1","x":-1.072,"y":-2.680,"group":"hit"},{"gene":"DDX54","x":-0.158,"y":-2.821,"group":"hit"},{"gene":"BCL2L1","x":-1.340,"y":-3.106,"group":"hit"},{"gene":"NGLY1","x":-1.248,"y":-3.354,"group":"hit"},{"gene":"SRF","x":-1.118,"y":-3.741,"group":"hit"},{"gene":"DERL1","x":-0.158,"y":-3.373,"group":"hit"},{"gene":"DDI2","x":1.192,"y":-3.760,"group":"hit"},{"gene":"ADK","x":0.312,"y":-4.021,"group":"hit"},{"gene":"UBXN1","x":-0.169,"y":-4.714,"group":"hit"}
],
"labels": [
{"gene":"IMPDH2","x":0.311,"y":5.342},{"gene":"TRIP12","x":2.355,"y":5.032},{"gene":"TPT1","x":1.127,"y":4.368},{"gene":"IKZF2","x":0.299,"y":4.310},{"gene":"DPH6","x":0.779,"y":3.914},{"gene":"CNBP","x":1.646,"y":3.976},{"gene":"UBE2Z","x":-1.015,"y":4.230},{"gene":"RPS25","x":-1.007,"y":3.842},{"gene":"THRA","x":-0.086,"y":3.914},{"gene":"EIF4A1","x":0.382,"y":3.522},{"gene":"SLC39A10","x":2.036,"y":3.589},{"gene":"SRM","x":3.097,"y":3.616},{"gene":"DAZAP1","x":2.960,"y":3.202},{"gene":"PCIF1","x":-1.469,"y":3.440},{"gene":"ZBTB7A","x":-2.489,"y":3.616},{"gene":"UBA6","x":-2.164,"y":2.970},{"gene":"UBR2","x":-0.592,"y":3.142},{"gene":"SCAP","x":0.771,"y":3.142},{"gene":"IKZF1","x":1.939,"y":3.056},{"gene":"RPTOR","x":2.804,"y":2.736},{"gene":"FAM98B","x":-1.174,"y":2.616},{"gene":"DPH5","x":1.459,"y":2.642},{"gene":"ASUN","x":0.893,"y":2.482},{"gene":"SLC4A7","x":4.076,"y":2.882},{"gene":"ATIC","x":3.785,"y":2.496},{"gene":"CYCS","x":2.973,"y":2.350},{"gene":"FBXO11","x":4.715,"y":2.112},{"gene":"MBNL1","x":-1.259,"y":2.232},{"gene":"MLST8","x":2.044,"y":2.242},{"gene":"C9orf78","x":-0.067,"y":2.016},{"gene":"ROMO1","x":1.007,"y":2.016},{"gene":"ZNF367","x":-1.142,"y":1.840},{"gene":"LRRC8A","x":0.034,"y":1.610},{"gene":"CRLS1","x":1.108,"y":1.622},{"gene":"KMT2D","x":2.108,"y":1.662},{"gene":"HCCS","x":3.142,"y":1.848},{"gene":"MARCH5","x":4.206,"y":1.715},{"gene":"ZBTB14","x":-1.095,"y":1.424},{"gene":"BAK1","x":6.036,"y":1.675},{"gene":"VDAC2","x":3.142,"y":1.328},{"gene":"MAPKAP1","x":4.325,"y":1.315},{"gene":"THG1L","x":1.693,"y":1.227},{"gene":"DIS3L","x":-2.787,"y":1.048},{"gene":"APAF1","x":4.517,"y":0.923},{"gene":"BCL2L11","x":3.440,"y":0.835},{"gene":"RICTOR","x":1.706,"y":0.848},{"gene":"RAD21","x":-3.733,"y":0.675},{"gene":"PSME3","x":-1.936,"y":0.664},{"gene":"OTUB1","x":-3.003,"y":0.283},{"gene":"MEMO1","x":-1.875,"y":0.264},{"gene":"WDR77","x":3.707,"y":0.182},{"gene":"FAM26D","x":1.005,"y":0.102},{"gene":"RUNX1","x":2.083,"y":0.102},{"gene":"TRIM52","x":-3.343,"y":-0.098},{"gene":"CHTOP","x":-1.952,"y":-0.120},{"gene":"UXS1","x":-4.181,"y":-0.338},{"gene":"FOXD4L1","x":1.693,"y":-0.285},{"gene":"BMF","x":4.042,"y":-0.357},{"gene":"SEC62","x":3.076,"y":-0.392},{"gene":"SLC39A9","x":-2.988,"y":-0.525},{"gene":"ADNP","x":-1.922,"y":-0.528},{"gene":"CYLD","x":1.927,"y":-0.685},{"gene":"ATP6V0A2","x":-3.896,"y":-0.738},{"gene":"PRRC2C","x":2.963,"y":-0.784},{"gene":"CBFB","x":3.991,"y":-0.765},{"gene":"YPEL5","x":-3.013,"y":-0.952},{"gene":"GPX4","x":-2.001,"y":-0.925},{"gene":"PRMT7","x":-1.056,"y":-0.944},{"gene":"ARID1A","x":1.810,"y":-1.072},{"gene":"NELFB","x":-4.070,"y":-1.218},{"gene":"MESDC1","x":-1.836,"y":-1.328},{"gene":"GPR107","x":-3.099,"y":-1.605},{"gene":"RAF1","x":-2.115,"y":-1.720},{"gene":"BCL2","x":-4.181,"y":-1.816},{"gene":"CSK","x":-1.337,"y":-1.792},{"gene":"SZT2","x":-0.573,"y":-1.784},{"gene":"COG7","x":0.673,"y":-2.000},{"gene":"PDS5B","x":-3.286,"y":-2.018},{"gene":"ZFAND5","x":-2.233,"y":-2.184},{"gene":"MBTD1","x":-1.158,"y":-2.184},{"gene":"DRD2","x":-0.207,"y":-2.184},{"gene":"ARL1","x":-3.221,"y":-2.400},{"gene":"ZNF296","x":1.654,"y":-2.394},{"gene":"NAA15","x":2.690,"y":-2.392},{"gene":"NPLOC4","x":-0.721,"y":-2.666},{"gene":"NSFL1C","x":0.745,"y":-2.786},{"gene":"RAD23B","x":1.875,"y":-2.794},{"gene":"RANBP1","x":-3.533,"y":-2.808},{"gene":"ASPSCR1","x":-2.287,"y":-2.813},{"gene":"MTMR4","x":-0.701,"y":-3.061},{"gene":"DDX54","x":0.364,"y":-3.173},{"gene":"ZBTB10","x":-2.164,"y":-3.213},{"gene":"BCL2L1","x":-0.682,"y":-3.573},{"gene":"NGLY1","x":-1.726,"y":-3.592},{"gene":"DERL1","x":0.356,"y":-3.600},{"gene":"NPRL2","x":-2.572,"y":-3.986},{"gene":"SRF","x":-0.890,"y":-3.986},{"gene":"DDI2","x":1.421,"y":-4.005},{"gene":"PLAA","x":2.495,"y":-4.256},{"gene":"ADK","x":0.537,"y":-4.266},{"gene":"UBXN1","x":-0.410,"y":-4.954}
],
"segments": [
{"gene":"UBE2Z","x":-0.565,"y":4.224,"x2":-0.197,"y2":3.482},{"gene":"RPS25","x":-0.561,"y":3.802,"x2":-0.555,"y2":3.542},{"gene":"THRA","x":-0.051,"y":3.782,"x2":0.265,"y2":3.030},{"gene":"PCIF1","x":-1.072,"y":3.434,"x2":-0.760,"y2":2.962},{"gene":"SRM","x":1.965,"y":3.384,"x2":2.778,"y2":3.616},{"gene":"DAZAP1","x":1.636,"y":3.242,"x2":2.433,"y2":3.208},{"gene":"IKZF1","x":1.355,"y":3.128,"x2":1.576,"y2":3.064},{"gene":"RPTOR","x":1.758,"y":2.816,"x2":2.420,"y2":2.750},{"gene":"ROMO1","x":1.615,"y":2.442,"x2":1.514,"y2":2.096},{"gene":"SLC4A7","x":2.674,"y":2.536,"x2":3.575,"y2":2.888},{"gene":"ATIC","x":3.471,"y":2.470,"x2":3.362,"y2":2.242},{"gene":"LRRC8A","x":0.565,"y":1.634,"x2":1.075,"y2":2.186},{"gene":"ZBTB14","x":-0.594,"y":1.443,"x2":-0.208,"y2":2.144},{"gene":"ZNF367","x":-0.644,"y":1.866,"x2":-0.425,"y2":2.288},{"gene":"CRLS1","x":2.160,"y":1.955,"x2":1.563,"y2":1.635},{"gene":"RICTOR","x":2.329,"y":1.208,"x2":2.238,"y2":0.875},{"gene":"APAF1","x":3.773,"y":1.056,"x2":4.107,"y2":0.934},{"gene":"SEC62","x":2.861,"y":0.102,"x2":3.037,"y2":-0.245},{"gene":"CBFB","x":3.362,"y":-0.264,"x2":3.617,"y2":-0.738},{"gene":"PRRC2C","x":2.713,"y":-0.432,"x2":2.861,"y2":-0.640},{"gene":"FAM26D","x":1.537,"y":0.102,"x2":2.420,"y2":-0.160},{"gene":"ARID1A","x":2.368,"y":-0.632,"x2":2.303,"y2":-1.032},{"gene":"DIS3L","x":-2.793,"y":0.915,"x2":-2.741,"y2":0.662},{"gene":"UXS1","x":-3.811,"y":-0.344,"x2":-3.546,"y2":-0.384},{"gene":"YPEL5","x":-3.196,"y":-0.592,"x2":-3.065,"y2":-0.808},{"gene":"NELFB","x":-3.628,"y":-1.210,"x2":-3.369,"y2":-1.192},{"gene":"PDS5B","x":-2.974,"y":-1.405,"x2":-3.221,"y2":-1.872},{"gene":"PRMT7","x":-2.325,"y":-1.085,"x2":-1.500,"y2":-0.928},{"gene":"MESDC1","x":-2.590,"y":-1.253,"x2":-2.378,"y2":-1.333},{"gene":"RANBP1","x":-2.079,"y":-2.525,"x2":-3.001,"y2":-2.805},{"gene":"NPRL2","x":-1.638,"y":-3.240,"x2":-2.131,"y2":-3.968},{"gene":"CSK","x":-1.345,"y":-1.915,"x2":-1.488,"y2":-2.373},{"gene":"SZT2","x":-0.605,"y":-1.938,"x2":-0.670,"y2":-2.184},{"gene":"COG7","x":0.265,"y":-2.048,"x2":0.255,"y2":-2.272},{"gene":"MBTD1","x":-1.163,"y":-2.320,"x2":-1.111,"y2":-2.546},{"gene":"MTMR4","x":-0.514,"y":-2.906,"x2":-0.306,"y2":-2.666},{"gene":"RAD23B","x":0.641,"y":-2.581,"x2":1.361,"y2":-2.773},{"gene":"BCL2L1","x":-1.293,"y":-3.226,"x2":-1.163,"y2":-3.533}
]
},
"encoding": {
"x": {"field": "x", "type": "quantitative", "title": "JQ1 0.8uM exp435 CRANKS score",
  "scale": {"domain": [-4.595, 6.455], "nice": false, "zero": false},
  "axis": {"values": [-4, -2, 0, 2, 4, 6], "labelExpr": "'' + datum.value", "domain": false, "grid": false, "tickSize": 11, "tickWidth": 2.5, "tickColor": "#333333", "labelFontSize": 56, "labelColor": "#4D4D4D", "labelFont": "Liberation Sans", "labelPadding": 7, "labelFlush": false, "labelOverlap": false, "titleFontSize": 44, "titleFontWeight": "normal", "titleColor": "#000000", "titleFont": "Liberation Sans", "titleBaseline": "alphabetic", "titleY": 119}},
"y": {"field": "y", "type": "quantitative", "title": "CB-5083 0.4uM exp468 CRANKS score",
  "scale": {"domain": [-5.218, 6.098], "nice": false, "zero": false},
  "axis": {"values": [-3, 0, 3, 6], "labelExpr": "'' + datum.value", "domain": false, "grid": false, "tickSize": 11, "tickWidth": 2.5, "tickColor": "#333333", "labelFontSize": 56, "labelColor": "#4D4D4D", "labelFont": "Liberation Sans", "labelPadding": 10, "labelFlush": false, "labelOverlap": false, "titleFontSize": 44, "titleFontWeight": "normal", "titleColor": "#000000", "titleFont": "Liberation Sans", "titleBaseline": "alphabetic", "titleX": -93}}
},
"layer": [
{"data": {"name": "hits"}, "transform": [{"filter": "datum.group == 'red'"}], "mark": {"type": "circle", "size": 210, "color": "#FF0000", "opacity": 1}},
{"data": {"name": "core"}, "mark": {"type": "circle", "size": 2000, "color": "#A0A0A0", "opacity": 1}},
{"data": {"name": "cloud"}, "mark": {"type": "circle", "size": 230, "color": "#A0A0A0", "opacity": 1}},
{"data": {"name": "hits"}, "transform": [{"filter": "datum.group == 'hit'"}], "mark": {"type": "circle", "size": 210, "color": "#000000", "opacity": 1}},
{"data": {"name": "segments"}, "mark": {"type": "rule", "color": "#000000", "strokeWidth": 3.5}, "encoding": {"x2": {"field": "x2"}, "y2": {"field": "y2"}}},
{"data": {"name": "labels"}, "mark": {"type": "text", "fontSize": 35, "font": "Liberation Sans", "color": "#000000", "align": "center", "baseline": "middle"}, "encoding": {"text": {"field": "gene"}}}
]
}
